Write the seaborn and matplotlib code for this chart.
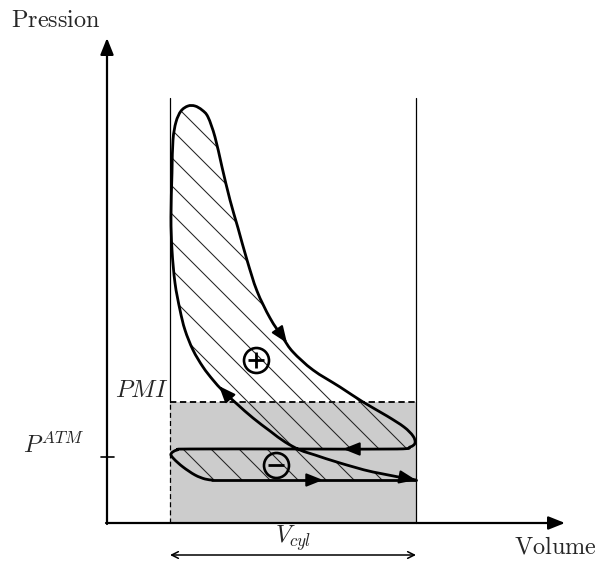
import numpy as np
import matplotlib
matplotlib.use("Agg")
import matplotlib.pyplot as plt
from matplotlib.patches import Rectangle, PathPatch
from matplotlib.path import Path
import seaborn as sns

# --- cycle (volume / pressure, arbitrary units) ---
intake_v = [105, 309]
intake_p = [43, 43]

compression_v = [309, 266, 233, 208, 193, 178, 163, 146, 130, 116, 106, 96,
                 86, 78, 73, 68, 65, 64, 65, 66, 69, 74, 81]
compression_p = [43, 51, 60, 68, 73, 81, 92, 105, 119, 132, 143, 156,
                 173, 193, 213, 240, 273, 306, 350, 383, 401, 412, 417]

expansion_v = [81, 88, 95, 101, 108, 115, 123, 131, 140, 150, 163, 176, 186,
               206, 233, 256, 280, 297, 306, 308, 303, 290]
expansion_p = [417, 417, 413, 406, 386, 356, 323, 295, 263, 232, 205, 185, 171,
               153, 136, 121, 107, 96, 87, 80, 76, 74]

exhaust_v = [290, 193, 83, 70, 64, 67, 76, 88, 98, 105]
exhaust_p = [74, 74, 74, 73, 69, 64, 56, 48, 44, 43]

v_pmh, v_pmb = 63, 309      # cylinder limits
p_top = 425
p_mi = 121
p_atm = 66

sns.set_style("white")
plt.rcParams['mathtext.fontset'] = 'cm'


def smooth_path(v, p):
    # smooth curve through the read points (Catmull-Rom as cubic Bezier)
    pts = np.column_stack([v, p]).astype(float)
    ext = np.vstack([pts[0], pts, pts[-1]])
    verts, codes = [pts[0]], [Path.MOVETO]
    for i in range(len(pts) - 1):
        p0, p1, p2, p3 = ext[i], ext[i + 1], ext[i + 2], ext[i + 3]
        verts += [p1 + (p2 - p0) / 6, p2 - (p3 - p1) / 6, p2]
        codes += [Path.CURVE4] * 3
    return Path(verts, codes)


fig = plt.figure(figsize=(5.98, 5.63), dpi=100)
ax = fig.add_axes([0, 0, 1, 1])
ax.set_xlim(-107, 491)
ax.set_ylim(-40, 523)
ax.axis('off')

# grey PMI area
ax.add_patch(Rectangle((v_pmh, 0), v_pmb - v_pmh, p_mi, color='#cccccc', lw=0, zorder=0))
ax.plot([v_pmh, v_pmb], [p_mi, p_mi], color='k', lw=1.3, ls=(0, (3.5, 2)), zorder=1)
ax.plot([v_pmh, v_pmh], [0, p_mi], color='k', lw=0.9, ls=(0, (4, 2.5)), zorder=1)
ax.plot([v_pmh, v_pmh], [p_mi, p_top], color='k', lw=0.9, zorder=1)
ax.plot([v_pmb, v_pmb], [0, p_top], color='k', lw=0.9, zorder=1)

# one smooth curve: compression -> expansion -> exhaust
curve_v = compression_v + expansion_v[1:] + exhaust_v[1:]
curve_p = compression_p + expansion_p[1:] + exhaust_p[1:]
curve = smooth_path(curve_v, curve_p)

# hatching of both loops (clipped to the closed cycle)
loop_path = Path(np.vstack([curve.vertices, [curve.vertices[0]]]),
                 list(curve.codes) + [Path.CLOSEPOLY])
loop = PathPatch(loop_path, fill=False, lw=0)
ax.add_patch(loop)
for c in range(10, 800, 28):
    hl, = ax.plot([30, 340], [c - 30, c - 340], color='#222222', lw=0.75, zorder=2)
    hl.set_clip_path(loop)

# cycle curves
ax.add_patch(PathPatch(curve, fill=False, ec='black', lw=2.0, joinstyle='round',
                       capstyle='round', zorder=3))
sns.lineplot(x=intake_v, y=intake_p, sort=False, estimator=None, color='black',
             lw=2.0, solid_capstyle='round', ax=ax, zorder=3)


def head(tip, tail):
    ax.annotate('', xy=tip, xytext=tail, zorder=4,
                arrowprops=dict(arrowstyle='-|>,head_length=0.5,head_width=0.2',
                                color='black', lw=1.5, shrinkA=0, shrinkB=0,
                                mutation_scale=20))


head((112, 137), (121, 127))
head((180, 180), (173, 190))
head((236, 74), (250, 74))
head((216, 43), (205, 43))
head((309, 43), (296, 45.4))

# + / - signs
ax.plot(149, 163, marker='o', ms=18, mfc='none', mec='k', mew=1.9, zorder=4)
ax.plot(149, 163, marker='+', ms=11.5, mec='k', mew=2.0, zorder=4)
ax.plot(169, 58, marker='o', ms=18, mfc='none', mec='k', mew=1.9, zorder=4)
ax.plot(169, 58, marker='_', ms=11.5, mec='k', mew=2.0, zorder=4)

# axes with arrows
axis_arrow = dict(arrowstyle='-|>,head_length=0.5,head_width=0.2', color='black',
                  lw=1.6, shrinkA=0, shrinkB=0, mutation_scale=20)
ax.annotate('', xy=(0, 485), xytext=(0, -1), arrowprops=axis_arrow)
ax.annotate('', xy=(458, 0), xytext=(-1, 0), arrowprops=axis_arrow)
ax.plot([-6, 7], [p_atm, p_atm], color='k', lw=1.2)

ax.annotate('', xy=(v_pmh, -32), xytext=(v_pmb, -32),
            arrowprops=dict(arrowstyle='<->', color='black', lw=1.1,
                            shrinkA=0, shrinkB=0, mutation_scale=12))

fs = 17.5
ax.text(-51, 503, r'$\mathrm{Pression}$', ha='center', va='center', fontsize=fs)
ax.text(448, -23, r'$\mathrm{Volume}$', ha='center', va='center', fontsize=fs)
ax.text(186, -15, r'$V_{cyl}$', ha='center', va='center', fontsize=fs)
ax.text(35, 133, r'$PMI$', ha='center', va='center', fontsize=fs)
ax.text(-54, 78, r'$P^{ATM}$', ha='center', va='center', fontsize=fs)

fig.savefig('out.png', dpi=100)
